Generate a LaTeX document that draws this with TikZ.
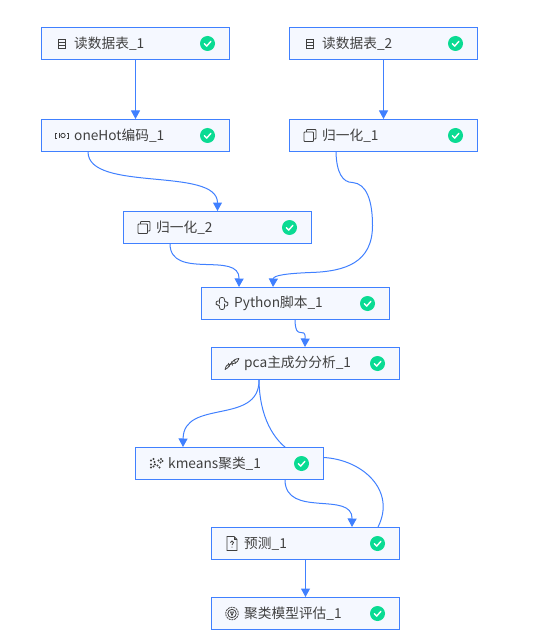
\documentclass[tikz,border=0pt]{standalone}
\usepackage{fontspec}
\setmainfont{Noto Sans CJK SC}
\usetikzlibrary{arrows.meta,calc,backgrounds}
\definecolor{FlowBlue}{RGB}{64,128,255}
\definecolor{SoftBlue}{RGB}{245,248,255}
\definecolor{DoneGreen}{RGB}{10,219,147}
\definecolor{LabelGray}{RGB}{64,64,64}
\tikzset{
  taskbox/.style={draw=FlowBlue,fill=SoftBlue,line width=1pt,minimum width=188pt,minimum height=32pt,inner sep=0pt},
  tasklabel/.style={anchor=west,text=LabelGray,inner sep=0pt,font=\fontsize{13.7}{16}\selectfont},
  flowline/.style={draw=FlowBlue,line width=1pt},
  flowarrow/.style={flowline,-{Triangle[length=8.5pt,width=9pt]}},
  iconline/.style={draw=LabelGray,line width=.8pt},
  pics/tableicon/.style={code={
    \draw[iconline] (-3.5,-4.5) rectangle (3.5,4.5);
    \draw[iconline] (-3.5,-1.5)--(3.5,-1.5) (-3.5,1.5)--(3.5,1.5);}},
  pics/hoticon/.style={code={
    \draw[iconline] (-5,-2.5)--(-6.5,-2.5)--(-6.5,2.5)--(-5,2.5) (5,-2.5)--(6.5,-2.5)--(6.5,2.5)--(5,2.5);
    \draw[iconline] (-3,-2.5)--(-3,2.5);
    \draw[iconline] (1,0) circle (2.2);}},
  pics/copyicon/.style={code={
    \draw[iconline,rounded corners=.8pt] (-6,-3.5) rectangle (3.5,6);
    \draw[iconline,rounded corners=.8pt] (-3.5,-3.5)--(-3.5,-6)--(6,-6)--(6,3.5)--(3.5,3.5);}},
  pics/pythonicon/.style={code={
    \draw[iconline,rounded corners=2pt] (-2.5,0)--(-2.5,-6)--(2.5,-6)--(2.5,-1.5)--(6,-1.5)--(6,2.5)--(2.5,2.5);
    \draw[iconline,rounded corners=2pt] (2.5,0)--(2.5,6)--(-2.5,6)--(-2.5,1.5)--(-6,1.5)--(-6,-2.5)--(-2.5,-2.5);}},
  pics/dnaicon/.style={code={
    \draw[iconline] (-7,6) .. controls (-5,-4) and (3,5) .. (7,-5);
    \draw[iconline] (-7,6) .. controls (-3,6) and (-1,-5) .. (7,-5);
    \draw[iconline] (-3.5,-.5)--(-2.5,3) (-.5,-2)--(.5,2) (2.5,-3.5)--(3.5,0);}},
  pics/clustericon/.style={code={
    \foreach \px/\py in {-5/-3,-2.5/-4.5,-1.5/-1.5,-5/1,-2.5/3,-1/1,-5/4,2.5/-3,5/-4.5,4.5/-1,6.5/-2.5,1.5/2,3.5/4}
      \fill[LabelGray] (\px,\py) circle (1.1);}},
  pics/docicon/.style={code={
    \draw[iconline] (-5,-7)--(2,-7)--(5,-4)--(5,7)--(-5,7)--cycle;
    \draw[iconline] (2,-7)--(2,-4)--(5,-4);
    \draw[iconline] (-1.5,-1) arc (180:360:1.5) -- (0,1.5) (0,3)--(0,4);}},
  pics/gearicon/.style={code={
    \draw[iconline,dash pattern=on 2pt off .8pt] (0,0) circle (6.3);
    \draw[iconline] (0,0) circle (4.2);
    \draw[iconline] (-1.5,-1.5)--(1.5,-1.5)--(0,2)--cycle;}},
}
\begin{document}
\begin{tikzpicture}[x=1pt,y=-1pt]
  \useasboundingbox (-.5,-.5) rectangle (546.5,638.5);
  \foreach \name/\x/\y/\ic/\txt in {
    readone/135/43/tableicon/读数据表\_1,
    readtwo/383/43/tableicon/读数据表\_2,
    onehot/135/135/hoticon/oneHot编码\_1,
    normone/383/135/copyicon/归一化\_1,
    normtwo/217/227/copyicon/归一化\_2,
    python/295/303/pythonicon/Python脚本\_1,
    pca/305/363/dnaicon/pca主成分分析\_1,
    kmeans/229/463/clustericon/kmeans聚类\_1,
    predict/305/543/docicon/预测\_1,
    evalmodel/305/613/gearicon/聚类模型评估\_1}{
    \node[taskbox] (\name) at (\x,\y) {};
    \pic at ($(\name.west)+(21,0)$) {\ic};
    \node[tasklabel] (\name text) at ($(\name.west)+(33,0)$) {\txt};
    \node[circle,fill=DoneGreen,minimum size=15pt,inner sep=0pt] (\name done) at ($(\name.west)+(166.5,0)$) {};
    \draw[white,line width=1.4pt,line cap=round,line join=round]
      ($(\name done)+(-3.2,.2)$)--($(\name done)+(-.8,2.6)$)--($(\name done)+(3.4,-2.2)$);
  }
  \begin{scope}[on background layer]
    \draw[flowarrow] (readone)--(onehot);
    \draw[flowarrow] (readtwo)--(normone);
    \draw[flowarrow] (predict)--(evalmodel);
    \draw[flowarrow] ($(onehot.south west)+(47,0)$) .. controls (88,192) and (217,166) .. (normtwo);
    \draw[flowarrow] ($(normone.south west)+(47,0)$) .. controls (336,172) and (342,182) .. (352,182)
      .. controls (366,183) and (372,200) .. (372,225)
      .. controls (372,262) and (345,271) .. (310,272)
      .. controls (285,273) and (273,275) .. ($(python.north west)+(72,0)$);
    \draw[flowarrow] ($(normtwo.south west)+(47,0)$) .. controls (170,280) and (239,250) .. ($(python.north west)+(38,0)$);
    \draw[flowarrow] ($(python.south west)+(94,0)$) .. controls (295,342) and (305,324) .. ($(pca.north west)+(94,0)$);
    \draw[flowarrow] ($(pca.south west)+(48,0)$) .. controls (259,425) and (183,398) .. ($(kmeans.north west)+(48,0)$);
    \draw[flowarrow] ($(kmeans.south west)+(150,0)$) .. controls (285,518) and (352,490) .. ($(predict.north west)+(141,0)$);
    \draw[flowline] ($(pca.south west)+(48,0)$) .. controls (259,415) and (272,440) .. (292,452)
      .. controls (302,456) and (312,457) .. (323,457)
      .. controls (362,459) and (396,490) .. ($(predict.north west)+(167,0)$);
  \end{scope}
\end{tikzpicture}
\end{document}
